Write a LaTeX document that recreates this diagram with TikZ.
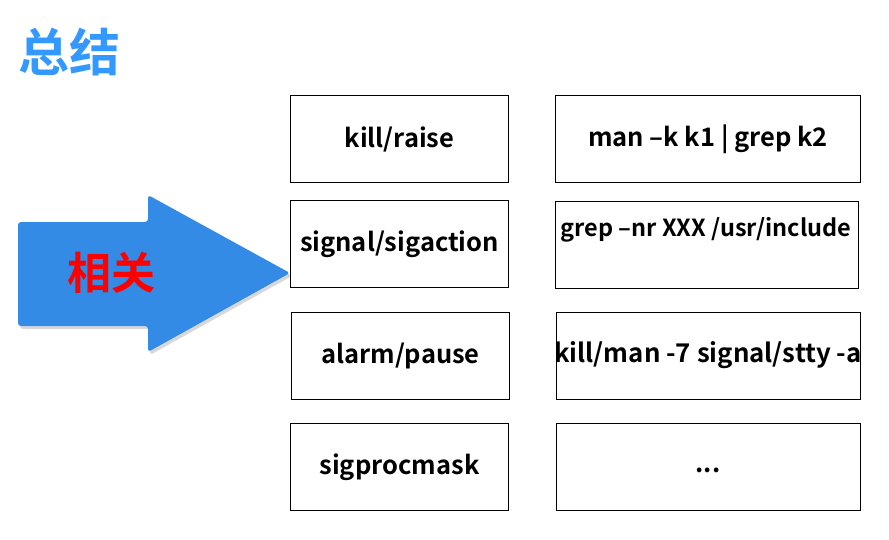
\documentclass[tikz,border=0pt]{standalone}
\usepackage{fontspec}
\setmainfont{Noto Sans CJK SC}[BoldFont={* Bold}]
\newfontfamily\cjkb{Noto Sans CJK SC Bold}
\definecolor{titleblue}{HTML}{3399FF}
\definecolor{arrowblue}{HTML}{338BE6}
\tikzset{
  box/.style={draw=black, line width=1pt, minimum width=218pt, minimum height=87pt, inner sep=0pt, anchor=north west, font=\cjkb\fontsize{25.5}{28}\selectfont},
  wbox/.style={box, minimum width=305pt},
  btext/.style={font=\cjkb\fontsize{25.5}{28}\selectfont},
}
\begin{document}
\begin{tikzpicture}[x=1pt,y=-1pt]
\useasboundingbox (0,0) rectangle (889,539);
\node[font=\cjkb\fontsize{51}{53}\selectfont, text=titleblue, anchor=west] (title) at (15,52) {总结};
% arrow
\fill[gray!60, opacity=0.5, rounded corners=3pt] (20,225) -- (150,225) -- (150,198) -- (292,276) -- (150,355) -- (150,329) -- (20,329) -- cycle;
\fill[arrowblue, rounded corners=3pt] (18,222) -- (148,222) -- (148,195) -- (290,273) -- (148,352) -- (148,326) -- (18,326) -- cycle;
\node[font=\cjkb\fontsize{44}{46}\selectfont, text=red] (rel) at (111,273) {相关};
% left column
\node[box] (b1) at (290,95) {kill/raise};
\node[box] (b2) at (290,200) {signal/sigaction};
\node[box] (b3) at (291,312) {alarm/pause};
\node[box] (b4) at (290,423) {sigprocmask};
% right column
\node[wbox] (c1) at (555,95) {man –k k1 | grep k2};
\node[wbox, minimum width=303pt] (c2) at (555,201) {};
\node[font=\cjkb\fontsize{23.5}{26}\selectfont] (c2t) at (706,230) {grep –nr XXX /usr/include};
\node[wbox, minimum width=304pt] (c3) at (556,312) {};
\node[font=\cjkb\fontsize{25.8}{28}\selectfont] (c3t) at (708,355) {kill/man -7 signal/stty -a};
\node[wbox, minimum width=304pt] (c4) at (556,423) {};
\node[btext] (c4t) at (708,470) {...};
\end{tikzpicture}
\end{document}
